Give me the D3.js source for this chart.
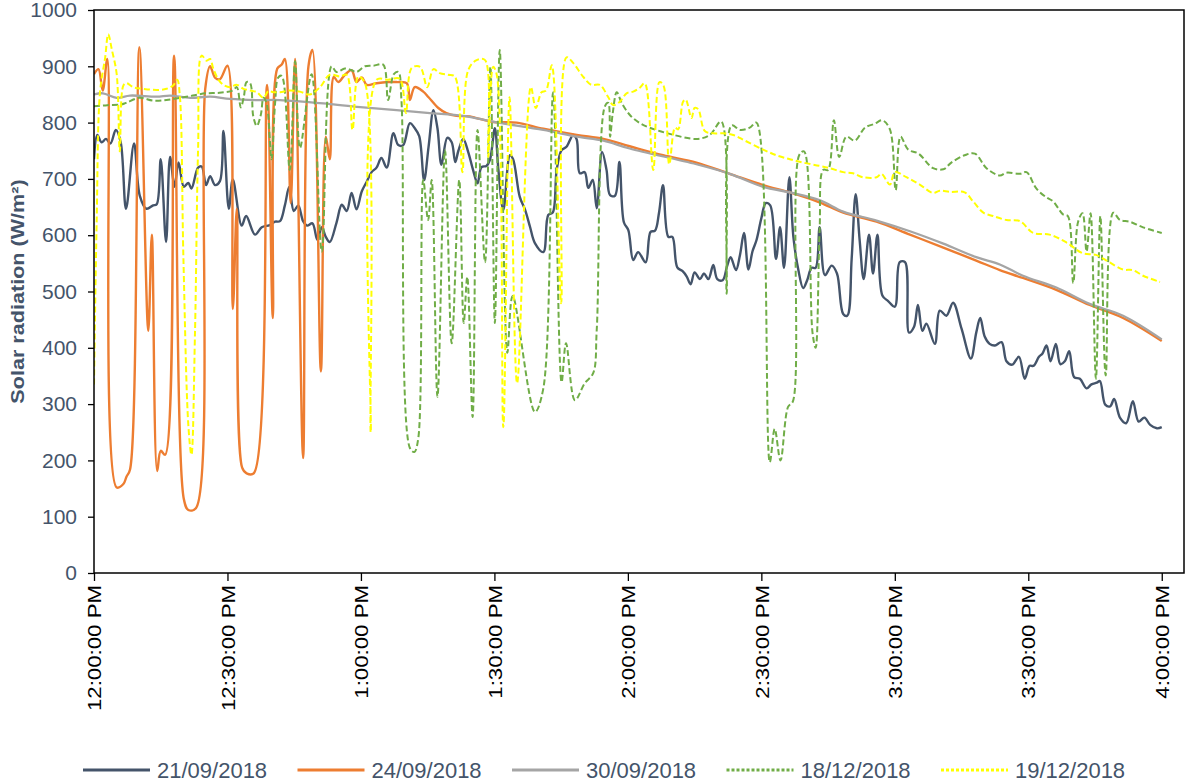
<!DOCTYPE html>
<html>
<head>
<meta charset="utf-8">
<script src="https://cdn.jsdelivr.net/npm/d3@7"></script>
<style>
  html, body { margin: 0; padding: 0; background: #fff; }
  svg { display: block; font-family: "Liberation Sans", Arial, sans-serif; }
</style>
</head>
<body>
<svg id="chart" width="1186" height="782"></svg>
<script>
// minutes after 12:00 PM, solar radiation (W/m2)
var sep21 = [[0,735],[0.75,778],[1.7,765],[2.7,771],[3.7,763],[4.9,787],[6.0,765],[7.2,647],[9.0,763],[10.3,670],[11.8,647],[13.3,653],[14.1,655],[15.0,735],[16.2,588],[17.1,739],[18.1,686],[19.0,729],[20.2,686],[21.2,693],[21.9,683],[23.4,720],[24.2,722],[25.2,689],[26.1,705],[27.2,689],[28.3,696],[29.1,785],[30.3,647],[31.2,699],[33.2,617],[34.2,634],[36.2,601],[37.7,614],[39.5,618],[40.7,624],[41.8,625],[42.9,653],[43.9,686],[44.9,643],[45.9,653],[47.0,625],[47.9,617],[49.1,621],[50.2,592],[51.2,614],[52.1,597],[53.0,588],[54.5,622],[55.7,654],[56.8,643],[57.9,675],[59.0,646],[60.2,678],[61.3,695],[62.4,712],[63.5,720],[64.6,737],[65.8,720],[67.3,781],[68.4,760],[69.5,760],[71.0,799],[72.1,790],[73.1,776],[74.2,698],[75.2,757],[76.3,822],[77.2,790],[78.1,725],[79.4,773],[80.4,765],[81.2,730],[81.9,750],[83.0,771],[84.1,748],[85.2,716],[86.2,692],[87.1,721],[88.2,723],[89.0,734],[90.1,790],[90.9,716],[92.0,645],[93.5,742],[94.2,735],[95.7,668],[96.9,645],[98.0,615],[99.1,586],[101.0,570],[102.1,636],[103.1,640],[104.0,716],[105.1,751],[106.2,757],[107.7,778],[108.5,770],[109.2,710],[110.3,712],[111.1,684],[112.1,698],[113.0,648],[114.2,748],[115.2,716],[116.0,671],[117.1,670],[118.1,730],[119.1,623],[120.1,609],[121.2,556],[122.3,570],[124.0,552],[125.1,606],[126.1,608],[127.0,640],[127.9,689],[129.1,597],[130.0,597],[131.1,543],[132.3,536],[133.2,527],[134.1,513],[135.0,534],[136.2,522],[137.1,532],[138.1,522],[139.2,547],[140.1,522],[141.3,520],[142.3,545],[143.1,561],[144.3,538],[145.2,565],[146.1,604],[147.1,539],[148.0,571],[148.9,591],[150.0,630],[151.0,657],[152.0,653],[153.3,558],[154.2,614],[155.1,542],[156.3,703],[157.2,597],[158.3,539],[159.4,506],[160.3,520],[161.3,542],[162.2,542],[163.1,614],[164.3,529],[165.8,546],[167.0,532],[168.4,460],[169.3,457],[170.3,558],[171.2,673],[172.1,591],[173.0,522],[174.2,601],[175.1,532],[176.1,601],[177.2,493],[178.5,483],[180.0,473],[181.1,552],[182.3,552],[183.2,427],[184.3,437],[185.2,476],[186.2,430],[187.1,443],[189.0,407],[190.1,466],[191.6,457],[193.1,480],[195.0,434],[197.1,381],[198.3,427],[199.2,453],[200.2,420],[201.3,407],[202.5,404],[204.0,410],[205.1,376],[206.4,370],[207.9,384],[209.2,345],[210.3,368],[211.2,368],[212.4,384],[213.2,390],[214.1,404],[215.0,376],[216.2,407],[217.2,371],[218.2,376],[219.2,394],[220.3,348],[221.6,345],[223.1,328],[224.2,335],[225.4,338],[226.1,341],[227.3,299],[228.4,296],[229.3,309],[230.6,276],[232.0,266],[233.5,305],[234.8,269],[236.1,276],[237.4,263],[238.9,257],[240,259]];

var sep24 = [[0,886],[1.0,895],[1.95,857],[3.0,913],[5.1,152],[6.6,158],[7.3,171],[8.1,184],[10.2,934],[12.2,430],[13.0,601],[14.2,181],[15.0,217],[16.0,210],[18.0,919],[20.2,131],[21.2,112],[22.9,115],[25.0,860],[26.1,900],[27.2,880],[28.3,877],[30.0,901],[31.2,469],[32.1,647],[33.3,187],[34.3,177],[35.9,177],[38.9,867],[40.2,453],[41.2,896],[42.2,903],[42.9,913],[44.2,657],[45.2,913],[47.0,204],[48.2,900],[49.1,929],[51.0,358],[52.1,775],[53.0,735],[53.9,881],[54.9,872],[56.4,885],[57.9,893],[59.0,872],[60.2,880],[61.3,867],[63.5,870],[66.1,872],[68.0,872],[70.3,870],[71.0,840],[72.1,863],[74.0,855],[75.2,845],[77.4,826],[79.2,817],[81.5,812],[84.5,811],[86.0,808],[89.7,801],[95.0,800],[101.0,789],[108.5,778],[114.5,771],[120.4,758],[127.9,742],[135.4,729],[142.9,709],[150.4,689],[156.4,676],[163.2,658],[168.4,640],[175.9,624],[183.4,601],[190.9,578],[198.3,555],[203.6,538],[208.8,524],[216.3,503],[223.8,476],[231.3,453],[240,412]];

var sep30 = [[0,850],[2.0,852],[5.1,844],[8.1,848],[14.1,846],[17.1,848],[21.6,844],[26.1,846],[30.6,842],[36.5,840],[41.8,840],[53.0,833],[60.5,827],[68.0,822],[75.5,817],[83.0,812],[90.1,801],[101.0,787],[108.5,775],[114.5,768],[120.4,754],[135.4,726],[142.9,709],[150.4,686],[156.4,676],[163.2,662],[168.4,642],[175.9,626],[183.4,607],[190.9,585],[198.3,561],[203.6,548],[208.8,528],[216.3,507],[223.8,478],[231.3,457],[240,415]];

var dec18 = [[0,829],[3,831],[6,832],[7.2,835],[10.2,844],[13.3,839],[16.3,840],[19.3,844],[22.2,848],[25.2,852],[28.2,853],[31.2,857],[32.1,863],[33.0,827],[33.7,847],[34.3,872],[35.1,870],[35.8,811],[36.6,794],[37.5,814],[38.1,844],[38.8,834],[39.9,735],[40.7,834],[41.4,880],[42.2,883],[44.0,716],[45.2,909],[46.3,755],[48.9,886],[51.2,571],[53.4,900],[54.5,890],[56.4,896],[57.9,893],[59.0,890],[60.9,900],[62.8,901],[65.0,903],[66.1,840],[67.4,886],[68.4,890],[69.1,840],[71.0,222],[72.0,215],[72.9,240],[74.0,698],[75.1,627],[75.9,698],[77.2,313],[78.9,751],[80.4,408],[82.1,698],[83.1,444],[83.9,526],[85.1,277],[86.2,787],[87.9,552],[89.1,899],[90.1,444],[91.2,929],[92.9,391],[94.1,492],[99.1,286],[101.0,328],[103.2,854],[105.1,339],[106.1,408],[108.1,307],[110.3,337],[112.2,355],[113.0,432],[114.8,828],[115.6,835],[116.0,775],[116.6,817],[117.5,854],[118.6,835],[120.5,813],[122.7,799],[124.9,791],[129.4,780],[135.4,771],[138.4,778],[141.0,802],[142.2,496],[143.3,795],[145.2,787],[147.4,791],[148.9,800],[151.9,197],[153.0,256],[154.3,200],[156.0,295],[157.1,305],[158.5,742],[159.6,749],[161.5,427],[162.2,400],[163.1,610],[163.9,716],[165.0,716],[166.3,804],[167.5,739],[169.1,775],[171.0,768],[173.3,791],[175.5,798],[177.2,804],[178.9,788],[180.2,680],[181.3,775],[183.0,752],[185.3,745],[188.6,719],[190.9,717],[192.7,729],[195.7,742],[198.0,745],[200.6,719],[203.6,706],[205.1,711],[208.1,709],[209.6,712],[211.8,683],[214.1,667],[215.6,660],[217.8,637],[218.9,634],[220.1,515],[221.2,624],[222.2,639],[223.1,571],[224.0,639],[225.2,345],[226.2,634],[227.4,351],[229.1,640],[230.6,627],[232.8,624],[235.8,614],[240,604]];

var dec19 = [[0,335],[0.6,624],[1.35,854],[2.5,915],[3.2,957],[4.0,930],[5.1,886],[5.8,749],[6.6,866],[7.3,870],[8.8,863],[11.1,860],[14.1,858],[16.3,860],[17.8,866],[18.7,876],[19.3,847],[20.1,558],[21.2,263],[21.9,210],[22.7,427],[23.4,755],[24.2,919],[25.3,910],[26.1,913],[26.8,896],[28.0,876],[29.1,867],[30.6,863],[32.1,867],[33.6,860],[35.1,857],[36.6,854],[38.1,844],[39.2,856],[40.3,854],[41.8,854],[44.0,857],[46.3,855],[48.5,850],[50.8,863],[53.0,885],[55.3,882],[56.8,885],[58.1,787],[59.4,882],[60.9,870],[62.2,250],[63.5,876],[66.1,876],[68.7,878],[70.1,817],[71.4,897],[73.3,899],[74.9,863],[76.3,895],[77.7,888],[79.6,885],[81.1,882],[82.8,712],[84.1,893],[86.0,911],[87.9,911],[88.6,739],[89.7,899],[90.5,886],[92.0,259],[93.4,845],[95.1,337],[98.2,863],[99.3,826],[100.6,854],[101.6,857],[102.9,902],[105.0,479],[106.2,916],[107.7,906],[110.0,881],[111.8,867],[113.7,867],[115.6,845],[116.7,831],[118.2,837],[119.7,852],[121.2,855],[122.7,862],[123.8,870],[125.7,716],[127.1,872],[128.0,866],[129.3,726],[130.6,791],[131.3,788],[132.4,837],[133.0,841],[134.3,808],[135.0,826],[135.8,824],[137.3,785],[139.2,781],[141.4,781],[143.7,778],[146.3,768],[150.4,752],[153.4,742],[156.4,735],[159.4,729],[163.2,723],[165.4,719],[168.4,712],[170.6,710],[172.8,703],[175.9,703],[177.0,709],[178.9,690],[180.0,712],[182.6,703],[185.6,690],[188.6,675],[190.1,679],[192.4,677],[195.7,676],[197.6,660],[199.9,640],[202.1,634],[205.1,627],[208.1,625],[211.1,604],[214.8,601],[218.6,587],[222.2,568],[225.2,565],[228.2,552],[231.3,539],[233.5,538],[235.8,528],[239.6,517]];

var seriesNames = ['21/09/2018', '24/09/2018', '30/09/2018', '18/12/2018', '19/12/2018'];
var tickMinutes = [0, 30, 60, 90, 120, 150, 180, 210, 240];
var tickLabels = ['12:00:00 PM', '12:30:00 PM', '1:00:00 PM', '1:30:00 PM', '2:00:00 PM',
                  '2:30:00 PM', '3:00:00 PM', '3:30:00 PM', '4:00:00 PM'];
var yTicks = d3.range(0, 1001, 100);

var series = [
    {name: seriesNames[0], data: sep21, color: '#44546A', width: 2.4, dash: null},
    {name: seriesNames[1], data: sep24, color: '#ED7D31', width: 2.4, dash: null},
    {name: seriesNames[2], data: sep30, color: '#A5A5A5', width: 2.3, dash: null},
    {name: seriesNames[3], data: dec18, color: '#70AD47', width: 2, dash: '6,3'},
    {name: seriesNames[4], data: dec19, color: '#FFFF00', width: 2, dash: '6,3'}
];

// plot box ("top" is a read-only window global, hence the prefixes)
var plotLeft = 94, plotRight = 1184, plotTop = 10, plotBottom = 573;
var svg = d3.select('#chart');

var x = d3.scaleLinear().domain([0, 245]).range([plotLeft, plotRight]);
var y = d3.scaleLinear().domain([0, 1000]).range([plotBottom, plotTop]);

svg.append('defs').append('clipPath').attr('id', 'plotclip')
  .append('rect').attr('x', plotLeft).attr('y', plotTop - 2)
    .attr('width', plotRight - plotLeft).attr('height', plotBottom - plotTop + 2);

// lines, in excel series order
var line = d3.line()
    .x(function(d) { return x(d[0]); })
    .y(function(d) { return y(d[1]); })
    .curve(d3.curveCatmullRom.alpha(0.5));

svg.append('g').attr('clip-path', 'url(#plotclip)')
  .selectAll('path.series')
    .data(series)
  .enter().append('path')
    .attr('class', 'series')
    .attr('fill', 'none')
    .attr('stroke', function(d) { return d.color; })
    .attr('stroke-width', function(d) { return d.width; })
    .attr('stroke-dasharray', function(d) { return d.dash; })
    .attr('stroke-linejoin', 'round')
    .attr('d', function(d) { return line(d.data); });

// frame
svg.append('rect')
    .attr('x', plotLeft).attr('y', plotTop)
    .attr('width', plotRight - plotLeft).attr('height', plotBottom - plotTop)
    .attr('fill', 'none').attr('stroke', '#000').attr('stroke-width', 1.5);

// y axis
var yAxis = svg.append('g')
    .attr('transform', 'translate(' + plotLeft + ',0)')
    .call(d3.axisLeft(y).tickValues(yTicks).tickFormat(d3.format('d'))
        .tickSize(6).tickPadding(11).tickSizeOuter(0));
yAxis.select('.domain').remove();
yAxis.selectAll('line').attr('stroke', '#000').attr('stroke-width', 1.3);
yAxis.selectAll('text')
    .attr('fill', '#44546A')
    .style('font-size', '21px')
    .style('font-family', '"Liberation Sans", Arial, sans-serif');

// x axis
var xAxis = svg.append('g')
    .attr('transform', 'translate(0,' + plotBottom + ')')
    .call(d3.axisBottom(x).tickValues(tickMinutes)
        .tickFormat(function(d, i) { return tickLabels[i]; })
        .tickSize(8).tickSizeOuter(0));
xAxis.select('.domain').remove();
xAxis.selectAll('line').attr('stroke', '#000').attr('stroke-width', 1.3);
xAxis.selectAll('text')
    .attr('fill', '#000')
    .attr('transform', 'rotate(-90)')
    .attr('x', -12)
    .attr('y', 0)
    .attr('dy', '0.35em')
    .style('text-anchor', 'end')
    .style('font-size', '19px')
    .style('font-family', '"Liberation Sans", Arial, sans-serif')
    .each(function() {
        var len = this.getComputedTextLength();
        d3.select(this).attr('textLength', len * 1.17).attr('lengthAdjust', 'spacingAndGlyphs');
    });

// y title
var title = svg.append('text')
    .attr('transform', 'translate(18,' + ((plotTop + plotBottom) / 2) + ') rotate(-90)')
    .attr('text-anchor', 'middle')
    .attr('dy', '0.35em')
    .attr('fill', '#44546A')
    .style('font-size', '18px')
    .style('font-weight', 'bold')
    .text('Solar radiation (W/m\u00B2)');
title.attr('textLength', title.node().getComputedTextLength() * 1.2)
    .attr('lengthAdjust', 'spacingAndGlyphs');

// legend
var legend = svg.append('g').attr('transform', 'translate(83,770)');
var item = legend.selectAll('g.item')
    .data(series)
  .enter().append('g')
    .attr('class', 'item')
    .attr('transform', function(d, i) { return 'translate(' + (i * 214.5) + ',0)'; });
item.append('line')
    .attr('x1', 0).attr('x2', 67)
    .attr('stroke', function(d) { return d.color; })
    .attr('stroke-width', 3)
    .attr('stroke-dasharray', function(d) { return d.dash ? '3,2' : null; });
item.append('text')
    .attr('x', 74)
    .attr('dy', '0.35em')
    .attr('fill', '#44546A')
    .style('font-size', '22px')
    .text(function(d) { return d.name; });
</script>
</body>
</html>
